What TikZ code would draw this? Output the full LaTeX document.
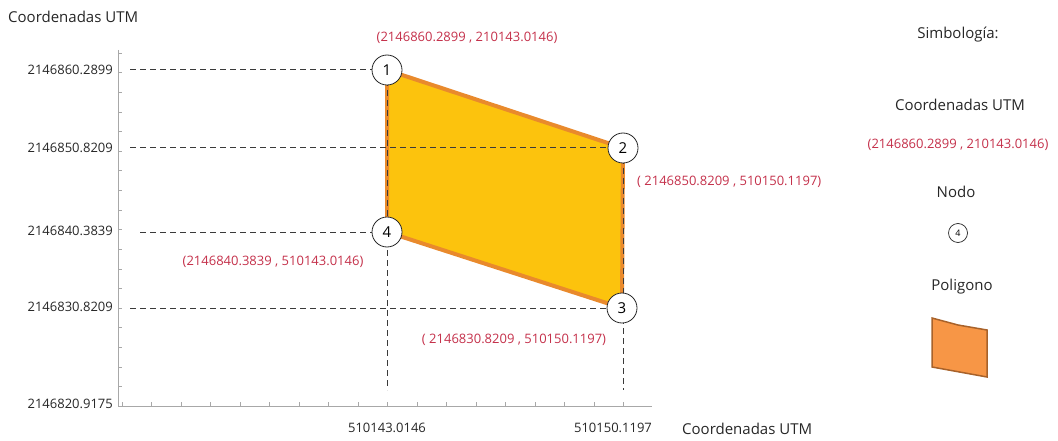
\documentclass[tikz,border=0pt]{standalone}
\usepackage{fontspec}
\setmainfont{Open Sans}
\usepackage{tikz}
\usetikzlibrary{positioning}
\usepackage{xcolor}
\definecolor{parcelfill}{HTML}{FCC30D}
\definecolor{parceledge}{HTML}{E98A2C}
\definecolor{coordred}{HTML}{C4304A}
\definecolor{legfill}{HTML}{F79646}
\definecolor{legedge}{HTML}{A8622A}
\definecolor{guidegray}{HTML}{3A3A3A}
\definecolor{axisgray}{HTML}{A8A8A8}
\tikzset{
  vertex/.style={circle, draw=black!85, fill=white, line width=0.8pt,
                 inner sep=0pt, minimum size=30pt, font=\fontsize{15}{15}\selectfont},
  smallvertex/.style={circle, draw=black!85, fill=white, line width=0.7pt,
                 inner sep=0pt, minimum size=19pt, font=\fontsize{9}{9}\selectfont},
  guide/.style={guidegray, line width=1pt, dash pattern=on 6pt off 4pt},
  axisline/.style={axisgray, line width=1pt},
  axistick/.style={axisgray, line width=0.6pt},
  parcel/.style={fill=parcelfill, draw=parceledge, line width=4pt, line join=round},
  coordlabel/.style={text=coordred, inner sep=0pt, font=\fontsize{13}{13}\selectfont},
  ticklabel/.style={text=black!85, inner sep=0pt, font=\fontsize{13}{13}\selectfont},
  title/.style={text=black!85, inner sep=0pt, font=\fontsize{15}{15}\selectfont},
}
\begin{document}
\begin{tikzpicture}[x=1pt, y=-1pt]
    \useasboundingbox (0,0) rectangle (1058,441);
    %% axes
    \coordinate (o)    at (118,406);
    \coordinate (ytop) at (118,50);
    \coordinate (xend) at (652,406);
    \draw[axisline] (ytop) -- (o) -- (xend);
    \foreach \k in {1,...,18} {
      \draw[axistick] (118,406-19.6*\k) -- ++(4,0);
    }
    \foreach \k in {1,...,18} {
      \draw[axistick] (92.5+29.5*\k,406) -- ++(0,-4);
    }
    %% polygon corners
    \coordinate (p1) at (387,70);
    \coordinate (p2) at (623,148);
    \coordinate (p3) at (622,308);
    \coordinate (p4) at (387,232);
    \draw[parcel] (p1) -- (p2) -- (p3) -- (p4) -- cycle;
    %% guide lines
    \coordinate (g1) at (130,70);
    \coordinate (g2) at (130,148);
    \coordinate (g4) at (140,232);
    \coordinate (g3) at (130,308);
    \coordinate (v1) at (387,390);
    \coordinate (v2) at (623,390);
    \draw[guide] (g1) -- (p1);
    \draw[guide] (g2) -- (p2);
    \draw[guide] (g4) -- (p4);
    \draw[guide] (g3) -- (p3);
    \draw[guide] (p1) -- (v1);
    \draw[guide] (p2) -- (v2);
    %% nodes
    \node[vertex] (n1) at (p1) {1};
    \node[vertex] (n2) at (p2) {2};
    \node[vertex] (n3) at (p3) {3};
    \node[vertex] (n4) at (p4) {4};
    %% axis labels
    \node[title, anchor=west] (ytitle) at (8,17) {Coordenadas UTM};
    \node[ticklabel, anchor=east] (y1) at (113,70)  {2146860.2899};
    \node[ticklabel, anchor=east] (y2) at (113,148) {2146850.8209};
    \node[ticklabel, anchor=east] (y4) at (113,231) {2146840.3839};
    \node[ticklabel, anchor=east] (y3) at (113,307) {2146830.8209};
    \node[ticklabel, anchor=east] (y0) at (113,404) {2146820.9175};
    \node[ticklabel] (x1) at (387,428) {510143.0146};
    \node[ticklabel] (x2) at (613,428) {510150.1197};
    \node[title, anchor=west] (xtitle) at (682,429) {Coordenadas UTM};
    %% coordinates of the corners
    \node[coordlabel] (c1) at (467,38)  {(2146860.2899 , 210143.0146)};
    \node[coordlabel, anchor=west] (c2) at (637,182) {( 2146850.8209 , 510150.1197)};
    \node[coordlabel] (c4) at (273,262) {(2146840.3839 , 510143.0146)};
    \node[coordlabel] (c3) at (514,340) {( 2146830.8209 , 510150.1197)};
    %% legend
    \node[title] (simb) at (958,35)  {Simbología:};
    \node[title] (lcoord) at (960,105) {Coordenadas UTM};
    \node[coordlabel] (lred) at (958,145) {(2146860.2899 , 210143.0146)};
    \node[title] (lnodo) at (956,192) {Nodo};
    \node[smallvertex] (lnode) at (958,233) {4};
    \node[title] (lpoly) at (962,287) {Poligono};
    \draw[fill=legfill, draw=legedge, line width=1.5pt]
      (932,318) -- (958,325) -- (987,330) -- (987,377) -- (932,367) -- cycle;
\end{tikzpicture}
\end{document}
